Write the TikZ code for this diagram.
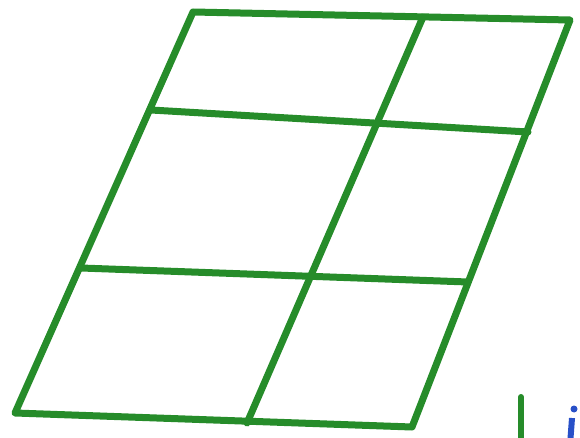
\documentclass[tikz,border=0pt]{standalone}
\definecolor{pen}{RGB}{38,140,42}
\definecolor{penblue}{RGB}{40,80,200}
\tikzset{stroke/.style={draw=pen, line width=7pt, line cap=round, line join=round}}
\begin{document}
\begin{tikzpicture}[x=1pt,y=-1pt]
\useasboundingbox (0,0) rectangle (580,438);
\coordinate (TL) at (193,12);
\coordinate (TR) at (570,20);
\coordinate (BR) at (412,427);
\coordinate (BL) at (15,413);
\coordinate (TM) at (423,17);
\coordinate (BM) at (247,423);
\coordinate (L1) at (151,110);
\coordinate (R1) at (528,132);
\coordinate (L2) at (81,268);
\coordinate (R2) at (468,282);
\coordinate (Va) at (521,397);
\coordinate (Vb) at (521,445);
\draw[stroke] (TL) -- (TR) -- (BR) -- (BL) -- cycle;
\draw[stroke] (TM) -- (BM);
\draw[stroke] (L1) -- (R1);
\draw[stroke] (L2) -- (R2);
\draw[stroke, line width=6pt] (Va) -- (Vb);
\fill[penblue] (574,409) circle (3.5);
\draw[penblue, line width=6pt] (572,418) -- (570,445);
\end{tikzpicture}
\end{document}
